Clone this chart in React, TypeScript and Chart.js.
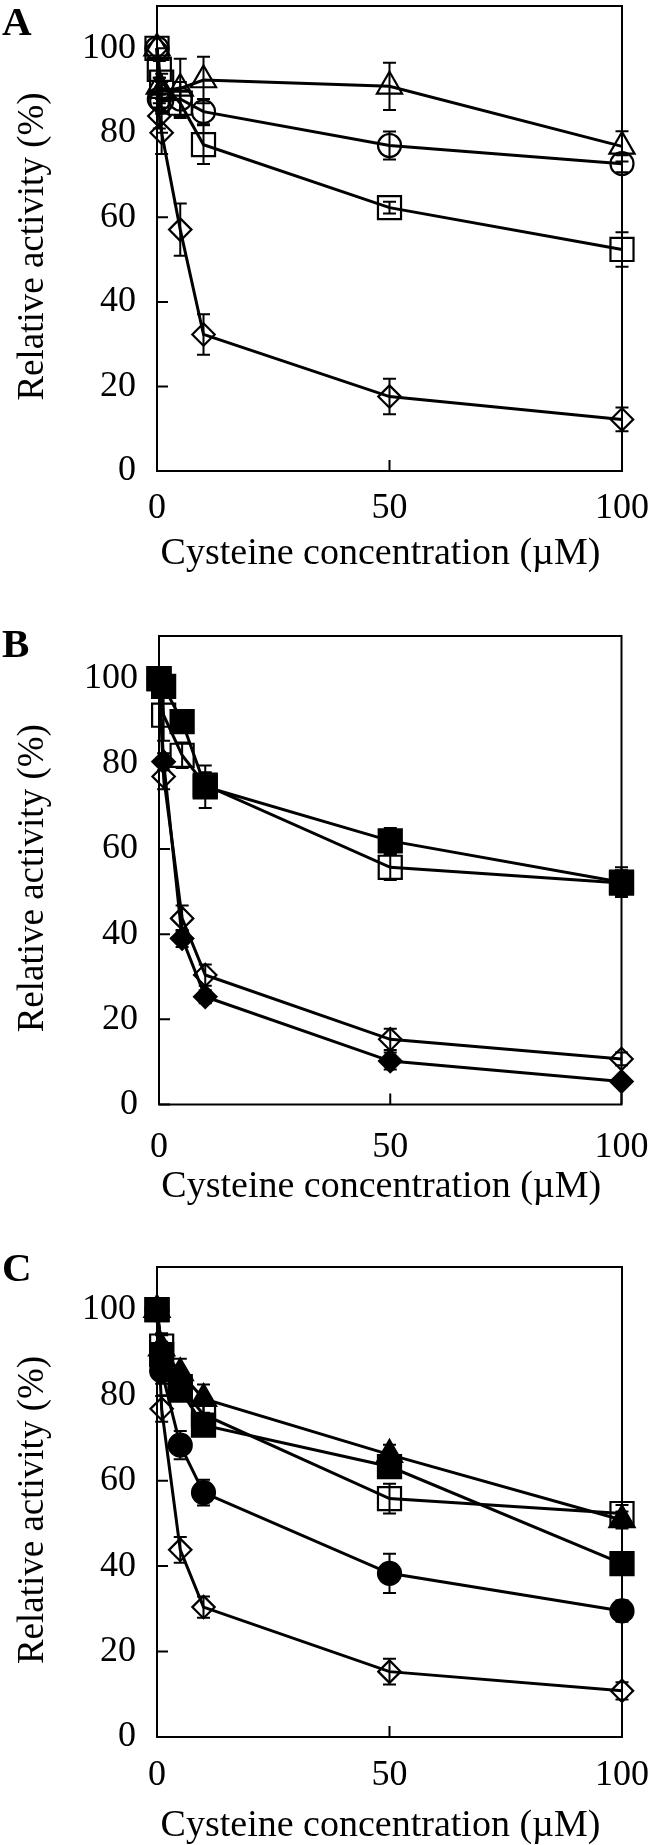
import React, { useEffect, useRef } from 'react';
import { Chart, registerables } from 'chart.js';

Chart.register(...registerables);

const FONT = '"Liberation Serif", "Times New Roman", Times, serif';

// ---------- Shared axis data ----------
const xTicks = [0, 50, 100];
const yTicks = [0, 20, 40, 60, 80, 100];
const xTitle = 'Cysteine concentration (µM)';
const yTitle = 'Relative activity (%)';

// ---------- Panel A ----------
const concA = [0, 0.5, 1, 5, 10, 50, 100];
const aTriangle = [100, 91, 90, 90.5, 92.5, 91, 76.8];
const aTriangleErr = [0, 2, 2, 7, 5.5, 5.6, 3.6];
const aCircle = [100, 88, 87.5, 88, 85, 77, 72.7];
const aCircleErr = [0, 2, 3, 4, 3, 3.3, 2];
const aSquare = [100, 95, 92, 87, 77.2, 62.3, 52.4];
const aSquareErr = [0, 2, 2, 3, 4.6, 1.4, 4.1];
const aDiamond = [100, 84, 80, 57.1, 32.3, 17.6, 12.2];
const aDiamondErr = [0, 3, 5, 6.2, 4.8, 4.2, 2.8];

// ---------- Panel B ----------
const concB = [0, 1, 5, 10, 50, 100];
const bSquareFilled = [100, 98.2, 89.9, 74.6, 61.9, 52.2];
const bSquareFilledErr = [0, 2, 2, 5, 3, 3.5];
const bSquareOpen = [100, 91.4, 82, 75, 55.7, 52];
const bSquareOpenErr = [0, 6, 3, 3, 3, 3];
const bDiamondFilled = [100, 80.5, 39, 25.3, 10.2, 5.4];
const bDiamondFilledErr = [0, 2, 2, 1.5, 2, 1];
const bDiamondOpen = [100, 77, 43.7, 30.4, 15.3, 10.7];
const bDiamondOpenErr = [0, 3, 3, 2.5, 2.5, 1.5];

// ---------- Panel C ----------
const concC = [0, 1, 5, 10, 50, 100];
const cSquareFilled = [100, 89.5, 81.2, 73, 63.3, 40.6];
const cSquareFilledErr = [0, 3, 2, 2, 2.5, 2];
const cTriangleFilled = [100, 91, 85.2, 79.2, 66.1, 50.8];
const cTriangleFilledErr = [0, 3, 3.3, 3.3, 2.3, 2];
const cCircleFilled = [100, 85.7, 68.3, 57.2, 38.3, 29.5];
const cCircleFilledErr = [0, 3, 3.3, 3, 4.6, 2.5];
const cSquareOpen = [100, 91.5, 82, 75.5, 55.8, 52.3];
const cSquareOpenErr = [0, 3, 3, 3, 3.5, 2];
const cDiamondOpen = [100, 76.8, 43.8, 30.4, 15.3, 10.8];
const cDiamondOpenErr = [0, 3, 3, 2.5, 3, 2];

type Marker = 'rect' | 'circle' | 'triangle' | 'rectRot';
type Series = { x: number[]; y: number[]; err: number[]; marker: Marker; filled: boolean };

const RADIUS: Record<Marker, number> = { rect: 16.3, circle: 11.5, triangle: 14.5, rectRot: 11.2 };

type PanelSpec = {
  letter: string;
  canvasTop: number;
  letterY: number;
  area: { left: number; top: number; right: number; bottom: number };
  xTickPad: number;
  xTitleY: number;
  series: Series[];
};

const W = 650;
const H = 615;

const panels: PanelSpec[] = [
  {
    letter: 'A',
    canvasTop: 0,
    letterY: 35,
    area: { left: 157, top: 6, right: 622, bottom: 471 },
    xTickPad: 16,
    xTitleY: 554,
    series: [
      { x: concA, y: aTriangle, err: aTriangleErr, marker: 'triangle', filled: false },
      { x: concA, y: aCircle, err: aCircleErr, marker: 'circle', filled: false },
      { x: concA, y: aSquare, err: aSquareErr, marker: 'rect', filled: false },
      { x: concA, y: aDiamond, err: aDiamondErr, marker: 'rectRot', filled: false },
    ],
  },
  {
    letter: 'B',
    canvasTop: 615,
    letterY: 42,
    area: { left: 159, top: 21, right: 621.5, bottom: 489.5 },
    xTickPad: 21,
    xTitleY: 572,
    series: [
      { x: concB, y: bSquareFilled, err: bSquareFilledErr, marker: 'rect', filled: true },
      { x: concB, y: bSquareOpen, err: bSquareOpenErr, marker: 'rect', filled: false },
      { x: concB, y: bDiamondFilled, err: bDiamondFilledErr, marker: 'rectRot', filled: true },
      { x: concB, y: bDiamondOpen, err: bDiamondOpenErr, marker: 'rectRot', filled: false },
    ],
  },
  {
    letter: 'C',
    canvasTop: 1230,
    letterY: 51,
    area: { left: 157, top: 37, right: 622, bottom: 507 },
    xTickPad: 17,
    xTitleY: 596,
    series: [
      { x: concC, y: cSquareFilled, err: cSquareFilledErr, marker: 'rect', filled: true },
      { x: concC, y: cTriangleFilled, err: cTriangleFilledErr, marker: 'triangle', filled: true },
      { x: concC, y: cCircleFilled, err: cCircleFilledErr, marker: 'circle', filled: true },
      { x: concC, y: cSquareOpen, err: cSquareOpenErr, marker: 'rect', filled: false },
      { x: concC, y: cDiamondOpen, err: cDiamondOpenErr, marker: 'rectRot', filled: false },
    ],
  },
];

function Panel({ spec }: { spec: PanelSpec }) {
  const ref = useRef<HTMLCanvasElement | null>(null);

  useEffect(() => {
    const canvas = ref.current;
    if (!canvas) return;
    const { area } = spec;

    const framePlugin = {
      id: 'frame' + spec.letter,
      beforeDatasetsDraw(chart: any) {
        const ctx = chart.ctx;
        const xs = chart.scales.x;
        const ys = chart.scales.y;
        ctx.save();
        ctx.strokeStyle = '#000';
        ctx.lineWidth = 2;
        spec.series.forEach((s) => {
          s.x.forEach((xv, i) => {
            const e = s.err[i];
            if (!e) return;
            const px = xs.getPixelForValue(xv);
            const y1 = ys.getPixelForValue(s.y[i] + e);
            const y2 = ys.getPixelForValue(s.y[i] - e);
            ctx.beginPath();
            ctx.moveTo(px, y1);
            ctx.lineTo(px, y2);
            ctx.moveTo(px - 6.5, y1);
            ctx.lineTo(px + 6.5, y1);
            ctx.moveTo(px - 6.5, y2);
            ctx.lineTo(px + 6.5, y2);
            ctx.stroke();
          });
        });
        ctx.restore();
      },
      afterDraw(chart: any) {
        const ctx = chart.ctx;
        const ca = chart.chartArea;
        const xs = chart.scales.x;
        const ys = chart.scales.y;
        ctx.save();
        ctx.strokeStyle = '#000';
        ctx.lineWidth = 2;
        ctx.strokeRect(ca.left, ca.top, ca.right - ca.left, ca.bottom - ca.top);
        ctx.beginPath();
        yTicks.forEach((v) => {
          const py = ys.getPixelForValue(v);
          ctx.moveTo(ca.left, py);
          ctx.lineTo(ca.left + 11, py);
        });
        xTicks.forEach((v) => {
          const px = xs.getPixelForValue(v);
          ctx.moveTo(px, ca.bottom);
          ctx.lineTo(px, ca.bottom - 11);
        });
        ctx.stroke();

        ctx.fillStyle = '#000';
        // panel letter
        ctx.font = 'bold 41px ' + FONT;
        ctx.textAlign = 'left';
        ctx.textBaseline = 'alphabetic';
        ctx.fillText(spec.letter, 2, spec.letterY);

        // axis titles
        ctx.textAlign = 'center';
        ctx.textBaseline = 'middle';
        ctx.font = '38px ' + FONT;
        ctx.fillText(xTitle, (ca.left + ca.right) / 2 - 9, spec.xTitleY);
        ctx.font = '37px ' + FONT;
        ctx.save();
        ctx.translate(33, (ca.top + ca.bottom) / 2 + 8);
        ctx.rotate(-Math.PI / 2);
        ctx.fillText(yTitle, 0, 0);
        ctx.restore();
        ctx.restore();
      },
    };

    const datasets = spec.series.map((s) => ({
      data: s.x.map((xv, i) => ({ x: xv, y: s.y[i] })),
      borderColor: '#000',
      borderWidth: 3,
      tension: 0,
      fill: false,
      clip: false as any,
      pointStyle: s.marker,
      pointRadius: RADIUS[s.marker],
      pointHoverRadius: RADIUS[s.marker],
      pointBorderWidth: 2.2,
      pointBorderColor: '#000',
      pointBackgroundColor: s.filled ? '#000' : 'rgba(0,0,0,0)',
    }));

    const chart = new Chart(canvas, {
      type: 'line',
      data: { datasets },
      options: {
        animation: false,
        responsive: false,
        devicePixelRatio: 1,
        events: [],
        layout: {
          autoPadding: false,
          padding: { top: area.top, right: W - area.right, left: 0, bottom: 0 },
        },
        plugins: { legend: { display: false }, tooltip: { enabled: false } },
        scales: {
          x: {
            type: 'linear',
            min: 0,
            max: 100,
            afterBuildTicks: (s: any) => {
              s.ticks = xTicks.map((v) => ({ value: v }));
            },
            afterFit: (s: any) => {
              s.height = H - area.bottom;
              s.paddingLeft = 0;
              s.paddingRight = 0;
            },
            grid: { display: false, drawTicks: false },
            border: { display: false },
            ticks: {
              color: '#000',
              font: { family: FONT, size: 36 },
              padding: spec.xTickPad,
              maxRotation: 0,
              autoSkip: false,
            },
            title: { display: false },
          },
          y: {
            type: 'linear',
            min: 0,
            max: 110,
            afterBuildTicks: (s: any) => {
              s.ticks = yTicks.map((v) => ({ value: v }));
            },
            afterFit: (s: any) => {
              s.width = area.left;
              s.paddingTop = 0;
              s.paddingBottom = 0;
            },
            grid: { display: false, drawTicks: false },
            border: { display: false },
            ticks: {
              color: '#000',
              font: { family: FONT, size: 36 },
              padding: 21,
              autoSkip: false,
            },
            title: { display: false },
          },
        },
      } as any,
      plugins: [framePlugin],
    });

    return () => chart.destroy();
  }, [spec]);

  return (
    <canvas
      ref={ref}
      width={W}
      height={H}
      style={{ position: 'absolute', left: 0, top: spec.canvasTop, width: W, height: H, display: 'block' }}
    />
  );
}

export default function App() {
  return (
    <div style={{ position: 'absolute', left: 0, top: 0, width: W, height: 1845, background: '#fff' }}>
      {panels.map((p) => (
        <Panel key={p.letter} spec={p} />
      ))}
    </div>
  );
}
